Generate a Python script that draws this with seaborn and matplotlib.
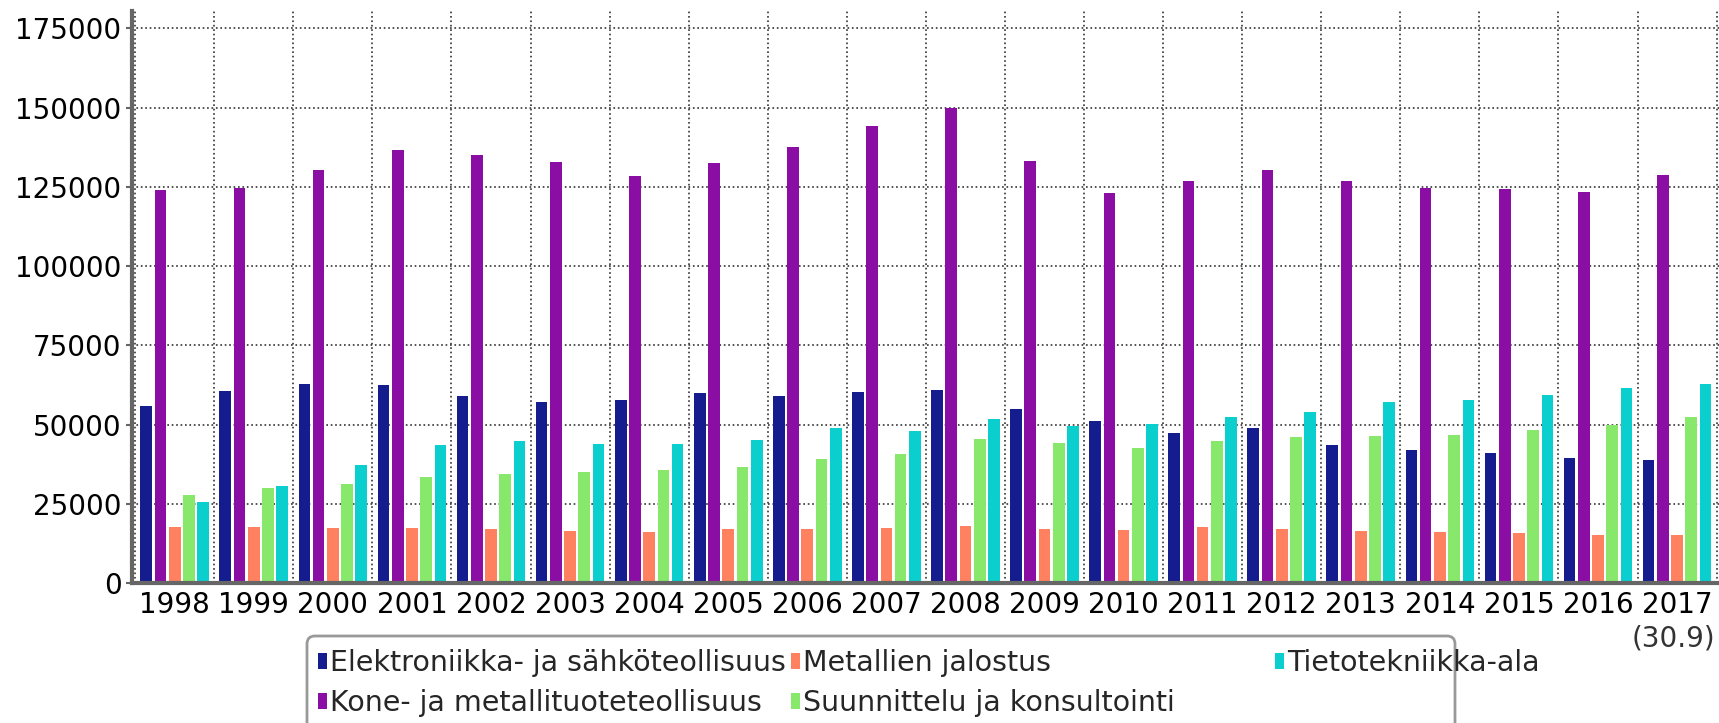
import seaborn as sns
import matplotlib.pyplot as plt
import pandas as pd
import numpy as np
from matplotlib.patches import FancyBboxPatch, Patch
from matplotlib.transforms import IdentityTransform
from matplotlib.ticker import FixedLocator

# -------------------------------
# 1. Data
# -------------------------------
years = ["1998", "1999", "2000", "2001", "2002", "2003", "2004", "2005", "2006", "2007",
         "2008", "2009", "2010", "2011", "2012", "2013", "2014", "2015", "2016", "2017"]

elektroniikka = [56000, 60500, 62800, 62500, 59100, 57100, 57600, 59800, 59100, 60300,
                 60800, 54800, 51100, 47300, 48800, 43500, 41900, 40900, 39400, 38800]
kone = [123900, 124500, 130200, 136500, 135200, 132800, 128300, 132500, 137700, 144200,
        150000, 133100, 123100, 127000, 130400, 126700, 124600, 124200, 123500, 128600]
metallien = [17700, 17800, 17500, 17500, 17100, 16400, 16100, 17000, 17100, 17300,
             18000, 17100, 16600, 17700, 17000, 16300, 16100, 15800, 15300, 15000]
suunnittelu = [27900, 30100, 31300, 33500, 34300, 35100, 35600, 36600, 39100, 40800,
               45400, 44200, 42500, 44800, 46100, 46400, 46800, 48300, 49900, 52400]
tietotekniikka = [25500, 30600, 37300, 43600, 44800, 43800, 43800, 45200, 48900, 48000,
                  51600, 49400, 50100, 52400, 53900, 57000, 57700, 59400, 61500, 62800]

series_names = ["Elektroniikka- ja sähköteollisuus", "Kone- ja metallituoteteollisuus",
                "Metallien jalostus", "Suunnittelu ja konsultointi", "Tietotekniikka-ala"]
series_values = [elektroniikka, kone, metallien, suunnittelu, tietotekniikka]
colors = ["#151c8e", "#8a0ea4", "#ff8160", "#88e86b", "#0bcfcf"]

y_ticks = [0, 25000, 50000, 75000, 100000, 125000, 150000, 175000]
last_year_note = "(30.9)"

rows = []
for name, values in zip(series_names, series_values):
    for year, v in zip(years, values):
        rows.append([year, name, v])
df = pd.DataFrame(rows, columns=["Vuosi", "Ala", "Arvo"])

# -------------------------------
# 2. Style
# -------------------------------
sns.set_theme(style="white")
plt.rcParams["font.family"] = ["DejaVu Sans"]

W, H = 1719, 723
fig = plt.figure(figsize=(W / 100, H / 100), dpi=100)
ax = fig.add_axes([132 / W, (H - 583) / H, (W - 132) / W, 572 / H])

# -------------------------------
# 3. Bars
# -------------------------------
sns.barplot(data=df, x="Vuosi", y="Arvo", hue="Ala", hue_order=series_names,
            order=years, palette=colors, saturation=1, width=0.9, gap=0.18,
            linewidth=0, errorbar=None, legend=False, ax=ax)

# small padding left of the first group, last group ends at the figure edge
ax.set_xlim(-0.54, 19.53)
ax.set_ylim(0, 180500)
ax.set_xlabel("")
ax.set_ylabel("")

ax.set_yticks(y_ticks)
ax.set_yticklabels([str(t) for t in y_ticks])

# grid: horizontal at y ticks, vertical at group boundaries
ax.set_axisbelow(True)
ax.xaxis.set_minor_locator(FixedLocator(np.arange(-0.5, len(years), 1.0)))
ax.grid(axis="y", which="major", linestyle=":", color="#333333", linewidth=1.2)
ax.grid(axis="x", which="minor", linestyle=":", color="#333333", linewidth=1.2)
ax.grid(axis="x", which="major", visible=False)

ax.tick_params(axis="x", which="major", length=0, pad=6, labelsize=20, labelcolor="black")
ax.tick_params(axis="x", which="minor", length=5, width=1.5, color="#555555", direction="out")
ax.tick_params(axis="y", which="major", length=4.5, width=1.5, color="#666666", pad=3,
               labelsize=20, labelcolor="black", left=True)

for side in ["top", "right"]:
    ax.spines[side].set_visible(False)
for side in ["left", "bottom"]:
    ax.spines[side].set_color("#666666")
    ax.spines[side].set_linewidth(3)

ax.text(len(years) - 1.05, -55 / 572, last_year_note, transform=ax.get_xaxis_transform(),
        ha="center", va="center", fontsize=20, color="#333333")

# -------------------------------
# 4. Legend (three columns, fixed positions, one shared frame)
# -------------------------------
frame = FancyBboxPatch((307, -30), 1148, H - 636 + 30,
                       boxstyle="round,pad=0,rounding_size=8",
                       transform=IdentityTransform(), facecolor="none",
                       edgecolor="#999999", linewidth=2)
fig.add_artist(frame)

columns = [[0, 1], [2, 3], [4]]
col_x = [318, 791, 1275]
for idx, x in zip(columns, col_x):
    handles = [Patch(facecolor=colors[i], edgecolor="none", label=series_names[i]) for i in idx]
    fig.legend(handles=handles, loc="upper left", bbox_to_anchor=(x / W, 1 - 649 / H),
               frameon=False, fontsize=20.5, handlelength=0.3, handleheight=0.5,
               handletextpad=0.12, borderpad=0, borderaxespad=0, labelspacing=0.42)

# -------------------------------
# 5. Save
# -------------------------------
plt.savefig("out.png", dpi=100)
